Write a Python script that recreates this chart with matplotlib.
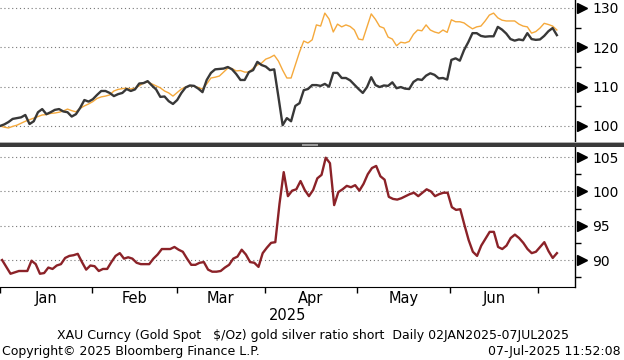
import numpy as np
import pandas as pd
import matplotlib
matplotlib.use("Agg")
import matplotlib.pyplot as plt
import matplotlib.transforms as mtransforms

# daily (weekday) series, 02JAN2025 - 07JUL2025
dates = pd.bdate_range("2025-01-02", "2025-07-07")

gold = [100.0, 100.4, 101.0, 101.8, 102.0, 102.2, 102.8, 100.5, 101.2, 103.5,
        104.3, 103.0, 103.5, 104.1, 104.3, 103.7, 103.5, 102.4, 103.0, 104.6,
        106.6, 106.2, 106.8, 107.9, 108.9, 108.9, 108.4, 107.6, 108.1, 108.4,
        109.4, 108.9, 109.3, 110.8, 110.9, 111.4, 110.3, 109.3, 107.4, 107.5,
        106.3, 105.6, 106.6, 108.4, 109.8, 110.3, 110.2, 109.5, 108.6, 111.7,
        113.5, 114.4, 114.5, 114.6, 115.0, 114.4, 113.2, 111.7, 111.7, 113.7,
        114.2, 116.3, 115.5, 115.1, 114.2, 114.4, 107.4, 100.2, 102.0, 101.2,
        105.1, 105.8, 109.1, 109.4, 110.4, 110.4, 110.2, 110.7, 110.0, 113.5,
        113.5, 112.2, 112.2, 111.6, 110.5, 109.4, 108.4, 109.9, 112.4, 110.4,
        109.9, 110.3, 110.2, 111.1, 109.6, 109.9, 109.5, 109.4, 111.2, 111.9,
        111.7, 112.8, 113.4, 113.0, 112.1, 112.2, 111.8, 116.8, 117.2, 116.6,
        119.3, 121.3, 123.6, 123.6, 122.9, 122.7, 122.8, 122.8, 125.2, 124.5,
        123.5, 122.1, 121.7, 122.0, 121.8, 123.6, 122.1, 121.9, 122.0, 122.9,
        124.1, 124.9, 123.1]

orange = [100.0, 99.7, 99.5, 99.9, 100.2, 100.7, 101.2, 101.6, 102.0, 102.4,
          102.8, 102.9, 103.2, 103.3, 103.5, 103.8, 104.3, 103.9, 103.6, 104.5,
          105.1, 105.6, 106.2, 107.0, 107.4, 107.6, 107.9, 108.9, 109.3, 109.5,
          109.6, 109.4, 109.6, 110.2, 110.9, 111.2, 110.7, 110.2, 109.7, 108.9,
          108.4, 107.6, 108.5, 109.4, 109.9, 110.2, 110.1, 109.8, 109.4, 110.7,
          112.2, 112.4, 112.7, 113.7, 114.7, 114.6, 114.0, 114.1, 113.7, 113.7,
          114.7, 115.5, 116.0, 117.0, 117.4, 118.0, 116.5, 114.2, 112.2, 112.2,
          115.5, 118.8, 121.6, 121.1, 121.9, 125.7, 125.4, 128.7, 127.2, 123.9,
          125.9, 125.2, 125.7, 125.3, 124.4, 122.1, 121.9, 125.2, 128.5, 127.1,
          125.3, 124.9, 122.6, 122.1, 120.4, 121.3, 121.1, 121.5, 123.3, 124.4,
          124.2, 125.7, 124.4, 123.9, 123.6, 124.4, 123.8, 127.0, 126.5, 126.5,
          126.2, 125.4, 124.7, 125.2, 125.4, 126.7, 128.2, 128.7, 127.5, 126.9,
          126.7, 126.7, 126.7, 125.9, 125.4, 125.2, 123.6, 124.0, 124.9, 126.1,
          125.8, 125.4, 124.4]

ratio = [90.0, 89.0, 88.0, 88.2, 88.4, 88.4, 88.4, 89.9, 89.4, 88.0,
         88.1, 88.9, 88.7, 89.2, 89.4, 90.3, 90.6, 90.7, 90.9, 89.7,
         88.6, 89.2, 89.1, 88.4, 88.7, 88.7, 89.7, 90.6, 91.0, 90.2,
         90.4, 90.2, 89.6, 89.4, 89.4, 89.4, 90.2, 90.8, 91.6, 91.6,
         91.6, 91.9, 91.5, 91.2, 90.2, 89.3, 89.3, 89.6, 89.7, 88.6,
         88.3, 88.3, 88.4, 88.9, 89.3, 90.2, 90.5, 91.5, 90.8, 89.7,
         89.6, 89.0, 91.0, 91.8, 92.5, 92.6, 98.2, 102.8, 99.3, 100.1,
         100.3, 101.5, 100.2, 99.3, 100.2, 101.9, 102.4, 104.9, 104.1, 98.0,
         99.9, 100.3, 100.8, 100.6, 100.9, 100.1, 101.1, 102.5, 103.4, 103.7,
         102.2, 101.7, 99.2, 98.9, 98.8, 99.0, 99.3, 99.6, 99.8, 99.3,
         99.8, 100.3, 100.0, 99.3, 99.6, 99.8, 99.8, 97.7, 97.3, 97.4,
         95.1, 92.9, 91.2, 90.6, 92.1, 93.1, 94.1, 94.1, 91.9, 91.6,
         92.1, 93.2, 93.7, 93.2, 92.5, 91.6, 91.0, 91.2, 91.9, 92.6,
         91.3, 90.3, 91.0]

top_ticks = [100, 110, 120, 130]
top_minor = [105, 115, 125]
bot_ticks = [90, 95, 100, 105]
bot_minor = [87.5, 92.5, 97.5, 102.5]
month_names = ["Jan", "Feb", "Mar", "Apr", "May", "Jun"]

W, H = 624, 360
fig = plt.figure(figsize=(W / 100, H / 100), dpi=100)
fig.patch.set_facecolor("white")


def px_axes(x0, y0, x1, y1):
    return fig.add_axes([x0 / W, 1 - y1 / H, (x1 - x0) / W, (y1 - y0) / H])


x = np.arange(len(dates))
# month boundaries: half a day before first weekday of each month
firsts = [np.argmax(dates.month == m) for m in range(1, 8)]
bounds = [f - 0.5 for f in firsts]
centers = [(bounds[k] + bounds[k + 1]) / 2 for k in range(6)]

ax1 = px_axes(0, 0, 575, 142)
ax2 = px_axes(0, 147, 575, 287)

ax1.plot(x, orange, color="#f5a93c", lw=1.0, zorder=3)
ax1.plot(x, gold, color="#383838", lw=1.7, zorder=4)
ax2.plot(x, ratio, color="#8b2228", lw=1.7, zorder=3)

ax1.set_ylim(95.93, 132.03)
ax2.set_ylim(86.07, 106.46)

for ax, maj, mnr in [(ax1, top_ticks, top_minor), (ax2, bot_ticks, bot_minor)]:
    ax.set_xlim(0, 136.3)
    for s in ["left", "top", "bottom"]:
        ax.spines[s].set_visible(False)
    ax.spines["right"].set_color("black")
    ax.spines["right"].set_linewidth(1.0)
    ax.yaxis.tick_right()
    ax.set_yticks(maj)
    ax.set_yticks(mnr, minor=True)
    ax.tick_params(axis="y", which="major", length=0, pad=12.5, labelsize=10)
    ax.tick_params(axis="y", which="minor", length=4, width=1, direction="out")
    for v in maj:
        ax.axhline(v, color="#777777", lw=0.8, ls=(0, (1, 2.5)), zorder=1)
    tr = mtransforms.blended_transform_factory(ax.transAxes, ax.transData)
    ax.plot([1 + 7 / 575] * len(maj), maj, ls="none", marker=">", ms=7,
            color="black", transform=tr, clip_on=False)

ax1.set_xticks([])
ax2.spines["bottom"].set_visible(True)
ax2.spines["bottom"].set_color("black")
ax2.set_xticks(bounds)
ax2.set_xticklabels([])
ax2.set_xticks(centers, minor=True)
ax2.set_xticklabels(month_names, minor=True)
ax2.tick_params(axis="x", which="major", length=4, width=1, direction="out")
ax2.tick_params(axis="x", which="minor", length=0, pad=3, labelsize=10.5)

# separator band between the panels
fig.add_artist(plt.Rectangle((0, 1 - 146.5 / H), 1, 3.5 / H, transform=fig.transFigure,
                             color="#3a3a3a", lw=0))
fig.add_artist(plt.Rectangle((0, 1 - 143 / H), 1, 1.2 / H, transform=fig.transFigure,
                             color="#b0b0b0", lw=0))
fig.add_artist(plt.Rectangle((302 / W, 1 - 146 / H), 16 / W, 2.5 / H,
                             transform=fig.transFigure, color="#9a9a9a", lw=0))

fig.text(288 / W, 1 - 316 / H, "2025", ha="center", va="center", fontsize=10.5)
fig.text(313 / W, 1 - 335 / H,
         "XAU Curncy (Gold Spot   $/Oz) gold silver ratio short  Daily 02JAN2025-07JUL2025",
         ha="center", va="center", fontsize=9)
fig.text(2 / W, 1 - 351 / H, "Copyright\u00a9 2025 Bloomberg Finance L.P.",
         ha="left", va="center", fontsize=9)
fig.text(621 / W, 1 - 351 / H, "07-Jul-2025 11:52:08",
         ha="right", va="center", fontsize=9)

fig.savefig("out.png", dpi=100)
